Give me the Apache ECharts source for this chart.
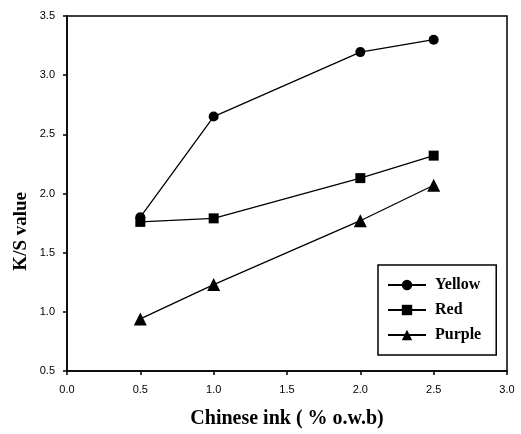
<!DOCTYPE html>
<html><head><meta charset="utf-8">
<script src="https://cdn.jsdelivr.net/npm/echarts@6/dist/echarts.min.js"></script>
<style>html,body{margin:0;padding:0;background:#fff}#c{width:521px;height:434px}</style>
</head><body><div id="c"></div>
<script>
const xValues = [0.5, 1.0, 2.0, 2.5];
const yellow = [1.80, 2.65, 3.195, 3.30];
const red = [1.76, 1.79, 2.13, 2.32];
const purple = [0.94, 1.23, 1.77, 2.07];
const seriesNames = ['Yellow', 'Red', 'Purple'];
const symbols = ['circle', 'rect', 'triangle'];
const symbolSizes = [10, 10, 13];
const allData = [yellow, red, purple];

const chart = echarts.init(document.getElementById('c'));
const tickFont = {fontFamily: 'Liberation Sans, Arial', fontSize: 11, color: '#000'};
chart.setOption({
  animation: false,
  grid: {left: 67, right: 14, top: 16, bottom: 61, show: true, borderColor: '#000', borderWidth: 1.5},
  graphic: [{
    type: 'text', left: 12, top: 192, rotation: Math.PI / 2,
    style: {text: 'K/S value', fontFamily: 'Liberation Serif, Times New Roman', fontWeight: 'bold', fontSize: 19, fill: '#000'}
  }],
  xAxis: {
    type: 'value', min: 0, max: 3, interval: 0.5,
    axisLine: {show: true, lineStyle: {color: '#000', width: 1.5}},
    axisTick: {show: true, length: 4, lineStyle: {color: '#000', width: 1.5}},
    splitLine: {show: false},
    axisLabel: Object.assign({margin: 13, formatter: v => v.toFixed(1)}, tickFont),
    name: 'Chinese ink ( % o.w.b)', nameLocation: 'middle', nameGap: 38,
    nameTextStyle: {fontFamily: 'Liberation Serif, Times New Roman', fontWeight: 'bold', fontSize: 20, color: '#000'}
  },
  yAxis: {
    type: 'value', min: 0.5, max: 3.5, interval: 0.5,
    axisLine: {show: true, lineStyle: {color: '#000', width: 1.5}},
    axisTick: {show: true, length: 4, lineStyle: {color: '#000', width: 1.5}},
    splitLine: {show: false},
    axisLabel: Object.assign({margin: 12, formatter: v => v.toFixed(1)}, tickFont)
  },
  legend: {
    orient: 'vertical', left: 378, top: 265,
    padding: [12, 15, 12, 9], itemGap: 9, itemWidth: 38, itemHeight: 13,
    borderColor: '#000', borderWidth: 1.5, backgroundColor: '#fff',
    textStyle: {fontFamily: 'Liberation Serif, Times New Roman', fontWeight: 'bold', fontSize: 16, color: '#000', padding: [0, 0, 0, 4]},
    data: seriesNames
  },
  series: seriesNames.map((n, i) => ({
    name: n, type: 'line',
    data: xValues.map((x, j) => [x, allData[i][j]]),
    symbol: symbols[i], symbolSize: symbolSizes[i],
    lineStyle: {color: '#000', width: 1.3},
    itemStyle: {color: '#000'}
  }))
});
</script></body></html>
